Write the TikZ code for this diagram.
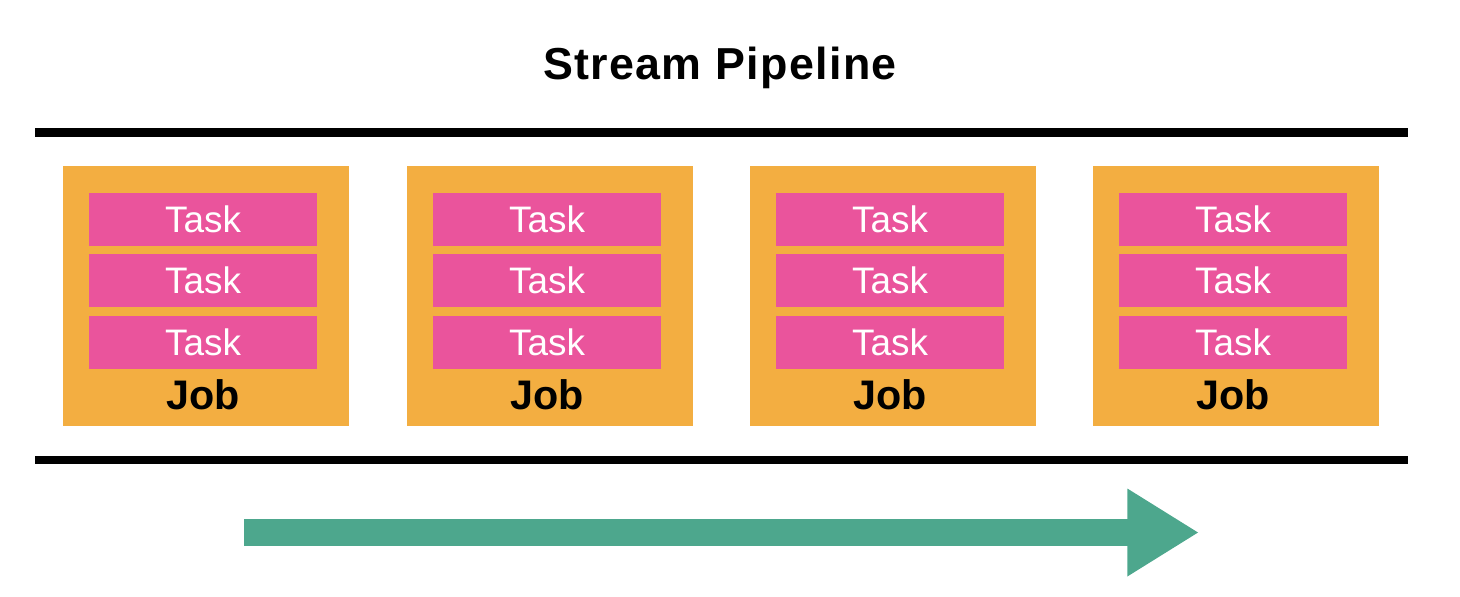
\documentclass[tikz,border=0pt]{standalone}
\usepackage{fontspec}
\setmainfont{Liberation Sans}
\newfontfamily\titlefont[LetterSpace=3]{Liberation Sans Bold}
\usetikzlibrary{arrows.meta}
\definecolor{joborange}{HTML}{F3AE41}
\definecolor{taskpink}{HTML}{EA549C}
\definecolor{flowgreen}{HTML}{4DA78D}

\begin{document}
\begin{tikzpicture}[x=0.02cm,y=-0.02cm,
  job/.style={fill=joborange,minimum width=5.72cm,minimum height=5.2cm,inner sep=0},
  task/.style={fill=taskpink,text=white,minimum width=4.58cm,minimum height=1.06cm,
    inner sep=0,font=\fontsize{21}{25}\selectfont},
  joblab/.style={anchor=base,inner sep=0,font=\bfseries\fontsize{23.5}{28}\selectfont},
  title/.style={anchor=base,inner sep=0,font=\titlefont\fontsize{25.5}{30}\selectfont},
  bar/.style={line width=5pt},
  flow/.style={flowgreen,line width=15.3pt,-{Triangle[length=40.8pt,width=47pt]}}]
  \useasboundingbox (0,0) rectangle (1460,596);

  \node[title] (title) at (720,79.5) {Stream Pipeline};

  \coordinate (top west) at (35,132.5);
  \coordinate (top east) at (1408,132.5);
  \coordinate (bottom west) at (35,460);
  \coordinate (bottom east) at (1408,460);
  \draw[bar] (top west) -- (top east);
  \draw[bar] (bottom west) -- (bottom east);

  \foreach \i/\cx in {1/203,2/547,3/890,4/1233} {
    \node[job] (job\i) at (\cx+3,296) {};
    \foreach \j/\ty in {1/219,2/280.5,3/342.5}
      \node[task] (task\i\j) at (\cx,\ty) {Task};
    \node[joblab] (joblab\i) at (\cx,409) {Job};
  }

  \coordinate (flow start) at (244,532.5);
  \coordinate (flow end) at (1199,532.5);
  \draw[flow] (flow start) -- (flow end);
\end{tikzpicture}
\end{document}
